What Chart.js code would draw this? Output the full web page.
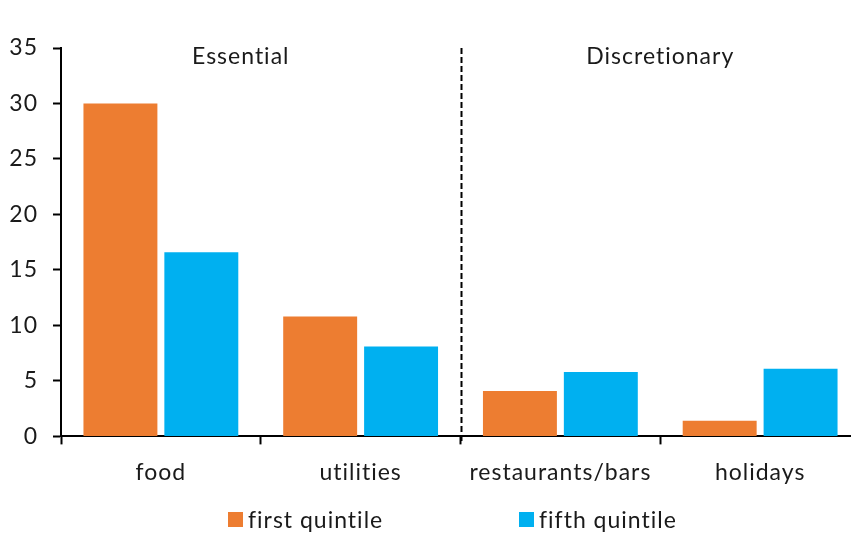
<!DOCTYPE html>
<html>
<head>
<meta charset="utf-8">
<script src="https://cdn.jsdelivr.net/npm/chart.js@4"></script>
<style>
  html, body { margin: 0; padding: 0; background: #fff; overflow: hidden; }
  #wrap { width: 862px; height: 534px; }
</style>
</head>
<body>
<div id="wrap"><canvas id="c" width="862" height="534"></canvas></div>
<script>
// Spending shares by category, lowest vs highest income quintile
const categories = ['food', 'utilities', 'restaurants/bars', 'holidays'];
const firstQuintile = [30, 10.8, 4.1, 1.4];
const fifthQuintile = [16.6, 8.1, 5.8, 6.1];
const yTicks = [0, 5, 10, 15, 20, 25, 30, 35];
const groupLabels = ['Essential', 'Discretionary'];

const FONT = 'Lato, "Open Sans", sans-serif';
const FONT_SIZE = 23;
const TEXT = '#1a1a1a';
const ORANGE = '#ED7D31';
const BLUE = '#00B0F0';

// Slightly open letter spacing (also keeps "fi"/"ti" as separate letters)
const spacing = {
  id: 'spacing',
  beforeDraw(chart) { chart.ctx.letterSpacing = '1px'; }
};

// Group headings, dashed divider and custom legend
const decorations = {
  id: 'decorations',
  afterDatasetsDraw(chart) {
    const { ctx, scales: { x, y } } = chart;
    ctx.save();
    // divider between essential and discretionary groups
    const xd = x.getPixelForValue(1.5) + 1;
    ctx.strokeStyle = '#000';
    ctx.lineWidth = 2;
    ctx.setLineDash([6, 3]);
    ctx.beginPath();
    ctx.moveTo(xd, y.getPixelForValue(35));
    ctx.lineTo(xd, y.getPixelForValue(0) + 7);
    ctx.stroke();
    ctx.setLineDash([]);

    // group headings
    ctx.letterSpacing = '1px';
    ctx.fillStyle = TEXT;
    ctx.font = FONT_SIZE + 'px ' + FONT;
    ctx.textAlign = 'center';
    ctx.textBaseline = 'alphabetic';
    ctx.fillText(groupLabels[0], x.getPixelForValue(0.4), y.getPixelForValue(33.55));
    ctx.fillText(groupLabels[1], x.getPixelForValue(2.5), y.getPixelForValue(33.55));

    // legend
    const starts = [228, 519];
    ctx.textAlign = 'left';
    chart.data.datasets.forEach((ds, i) => {
      ctx.fillStyle = ds.backgroundColor;
      ctx.fillRect(starts[i], 512, 15, 15);
      ctx.fillStyle = TEXT;
      ctx.fillText(ds.label, starts[i] + 20, 528);
    });
    ctx.restore();
  }
};

new Chart(document.getElementById('c'), {
  type: 'bar',
  data: {
    labels: categories,
    datasets: [
      { label: 'first quintile', data: firstQuintile, backgroundColor: ORANGE,
        barPercentage: 0.914, categoryPercentage: 0.81 },
      { label: 'fifth quintile', data: fifthQuintile, backgroundColor: BLUE,
        barPercentage: 0.914, categoryPercentage: 0.81 }
    ]
  },
  options: {
    responsive: false,
    animation: false,
    layout: { padding: { top: 48, right: 2, bottom: 34, left: 0 } },
    plugins: { legend: { display: false }, tooltip: { enabled: false } },
    scales: {
      x: {
        grid: { drawOnChartArea: false, drawTicks: true, tickLength: 8, tickColor: '#000', tickWidth: 2, offset: true },
        border: { display: true, color: '#000', width: 2 },
        ticks: { color: TEXT, font: { family: FONT, size: FONT_SIZE }, padding: 14, maxRotation: 0 }
      },
      y: {
        min: 0, max: 35,
        afterBuildTicks(scale) { scale.ticks = yTicks.map(v => ({ value: v })); },
        afterFit(scale) { scale.width = 61; },
        grid: { drawOnChartArea: false, drawTicks: true, tickLength: 8, tickColor: '#000', tickWidth: 2 },
        border: { display: true, color: '#000', width: 2 },
        ticks: { color: TEXT, font: { family: FONT, size: FONT_SIZE }, padding: 15 }
      }
    }
  },
  plugins: [spacing, decorations]
});
</script>
</body>
</html>
